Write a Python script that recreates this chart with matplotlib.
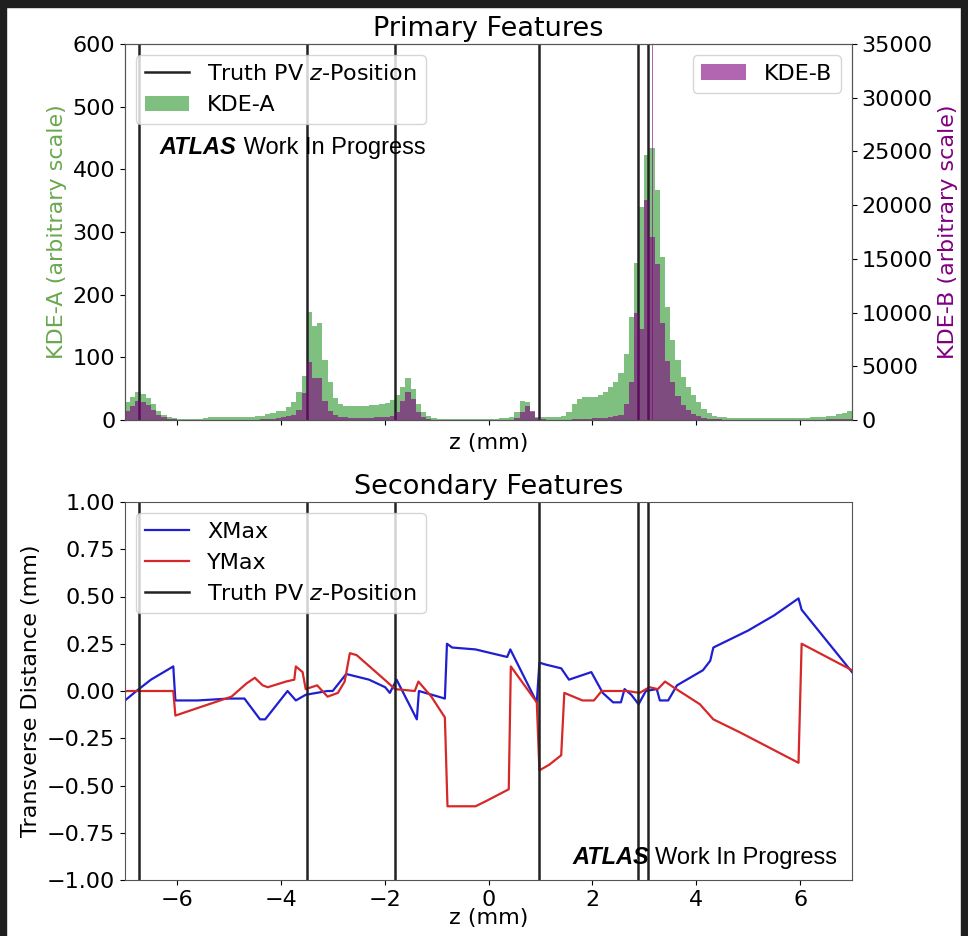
import matplotlib
matplotlib.use("Agg")
import matplotlib.pyplot as plt
from matplotlib.patches import Rectangle
from matplotlib.lines import Line2D
from matplotlib.patches import Patch
import numpy as np

# --- donnees ---
z_min, z_max = -7.0, 7.0

truth_pv_z = [-6.73, -3.49, -1.80, 0.97, 2.88, 3.07]

# KDE-A, bins de 0.1 mm de -7 a 7
kde_a = [
    28, 36, 44, 42, 35, 25, 15, 8, 4, 3,
    2, 2, 2, 2, 2, 3, 4, 4, 4, 4,
    4, 4, 4, 5, 5, 6, 7, 9, 11, 14,
    15, 20, 28, 45, 70, 172, 150, 155, 95, 60,
    35, 25, 22, 22, 22, 23, 23, 24, 24, 25,
    27, 32, 40, 52, 67, 50, 25, 12, 6, 3,
    2, 1, 1, 1, 1, 1, 1, 1, 1, 1,
    1, 2, 3, 3, 4, 12, 30, 28, 12, 5,
    5, 5, 5, 5, 6, 12, 25, 33, 37, 36,
    36, 40, 45, 52, 60, 75, 105, 165, 250, 340,
    423, 434, 367, 260, 180, 128, 95, 69, 52, 40,
    28, 18, 11, 7, 5, 4, 3, 3, 3, 3,
    3, 3, 3, 3, 3, 3, 3, 3, 3, 3,
    3, 3, 4, 4, 5, 6, 7, 9, 11, 14,
]

# KDE-B, memes bins
kde_b = [
    800, 1300, 1750, 1700, 1400, 900, 500, 250, 100, 50,
    20, 10, 10, 10, 10, 10, 10, 10, 10, 10,
    10, 10, 20, 20, 30, 40, 60, 80, 120, 180,
    250, 350, 500, 900, 2500, 5400, 3900, 3900, 1800, 800,
    450, 300, 250, 200, 200, 200, 220, 220, 250, 280,
    320, 400, 700, 1800, 2600, 2000, 700, 250, 100, 40,
    20, 10, 10, 10, 10, 10, 10, 10, 10, 10,
    10, 10, 10, 10, 20, 150, 700, 1300, 800, 200,
    50, 30, 30, 30, 30, 40, 60, 80, 100, 120,
    150, 180, 220, 280, 350, 500, 1500, 3500, 10000, 8500,
    20500, 17000, 14500, 9000, 5500, 3500, 2200, 1400, 900, 600,
    350, 200, 120, 80, 50, 30, 20, 20, 20, 20,
    20, 20, 20, 20, 20, 20, 20, 20, 20, 20,
    20, 20, 30, 30, 40, 50, 60, 80, 100, 120,
]
kde_b_spike_z = [3.16]
kde_b_spike = [40000]

# XMax
xmax_z = [-7.0, -6.78, -6.5, -6.07, -6.03, -5.6, -5.0, -4.7, -4.4, -4.3,
          -3.87, -3.71, -3.52, -3.1, -3.0, -2.74, -2.3, -1.99, -1.9, -1.77,
          -1.38, -1.34, -0.84, -0.80, -0.7, -0.25, 0.36, 0.42, 0.93, 0.98,
          1.1, 1.4, 1.55, 1.98, 2.2, 2.4, 2.55, 2.62, 2.75, 2.89,
          3.03, 3.24, 3.3, 3.46, 3.63, 4.13, 4.27, 4.33, 5.0, 5.5,
          5.97, 6.03, 7.0]
xmax_val = [-0.05, 0.0, 0.06, 0.13, -0.05, -0.05, -0.04, -0.04, -0.15, -0.15,
            0.0, -0.05, -0.02, 0.0, 0.0, 0.09, 0.06, 0.02, -0.01, 0.06,
            -0.15, 0.0, -0.04, 0.25, 0.23, 0.22, 0.18, 0.22, -0.06, 0.15,
            0.14, 0.12, 0.06, 0.10, -0.01, -0.06, -0.06, 0.01, -0.02, -0.07,
            0.0, 0.01, -0.05, -0.05, 0.03, 0.11, 0.16, 0.23, 0.32, 0.40,
            0.49, 0.43, 0.10]

# YMax
ymax_z = [-7.0, -6.07, -6.03, -5.6, -4.95, -4.66, -4.5, -4.35, -4.25, -3.9,
          -3.74, -3.71, -3.58, -3.52, -3.3, -3.1, -2.9, -2.77, -2.67, -2.54,
          -1.96, -1.8, -1.42, -1.35, -1.1, -0.84, -0.79, -0.25, -0.03, 0.39,
          0.43, 0.93, 0.98, 1.17, 1.40, 1.46, 1.81, 2.03, 2.18, 2.67,
          2.91, 3.1, 3.26, 3.4, 3.56, 4.07, 4.33, 4.85, 5.97, 6.03,
          7.0]
ymax_val = [0.0, 0.0, -0.13, -0.09, -0.03, 0.04, 0.07, 0.03, 0.02, 0.05,
            0.06, 0.13, 0.10, 0.01, 0.03, -0.03, -0.01, 0.05, 0.20, 0.19,
            0.05, 0.01, 0.0, 0.05, -0.03, -0.14, -0.61, -0.61, -0.58, -0.52,
            0.13, -0.06, -0.42, -0.39, -0.34, -0.01, -0.05, -0.05, 0.0, 0.0,
            -0.01, 0.02, 0.01, 0.05, 0.02, -0.07, -0.15, -0.22, -0.38, 0.25,
            0.11]

plt.rcParams['font.size'] = 16
plt.rcParams['axes.edgecolor'] = '#555555'

fig = plt.figure(figsize=(9.68, 9.36), dpi=100)

# bord sombre de la capture
for rect in [(0, 1 - 7 / 936, 1, 7 / 936), (0, 0, 6 / 968, 1), (1 - 7 / 968, 0, 7 / 968, 1)]:
    fig.patches.append(Rectangle(rect[:2], rect[2], rect[3], transform=fig.transFigure,
                                 color='#1f1f1f', zorder=-10))

edges = np.linspace(z_min, z_max, len(kde_a) + 1)

# ---------- Primary Features ----------
ax1 = fig.add_axes([125 / 968, 1 - 420 / 936, 727 / 968, 376 / 936])
ax1.stairs(kde_a, edges, fill=True, facecolor='g', alpha=0.5, lw=0)
for z in truth_pv_z:
    ax1.axvline(z, color='#222222', lw=1.8)
ax1.set_xlim(z_min, z_max)
ax1.set_ylim(0, 600)
ax1.set_xticks([-6, -4, -2, 0, 2, 4, 6])
ax1.set_xticklabels([])
ax1.set_xlabel('z (mm)', labelpad=2)
ax1.set_ylabel('KDE-A (arbitrary scale)', color='#6aa84f')
ax1.set_title('Primary Features', fontsize=19.5, pad=6)

handles1 = [Line2D([], [], color='#222222', lw=1.8),
            Patch(facecolor='g', alpha=0.5, lw=0)]
ax1.legend(handles1, ['Truth PV $z$-Position', 'KDE-A'], loc='upper left')

t1 = ax1.text(0.048, 0.726, 'ATLAS', transform=ax1.transAxes, fontsize=17,
              fontweight='bold', fontstyle='italic', family='Liberation Sans', va='center')
ax1.annotate(' Work In Progress', xy=(1, 0), xycoords=t1, fontsize=17,
             family='Liberation Sans', va='bottom')

ax2 = ax1.twinx()
ax2.stairs(kde_b, edges, fill=True, facecolor='purple', alpha=0.6, lw=0)
ax2.bar(kde_b_spike_z, kde_b_spike, width=0.02, color='purple', alpha=0.6, lw=0)
ax2.set_ylim(0, 35000)
ax2.set_ylabel('KDE-B (arbitrary scale)', color='purple')
ax2.legend([Patch(facecolor='purple', alpha=0.6, lw=0)], ['KDE-B'], loc='upper right')

# ---------- Secondary Features ----------
ax3 = fig.add_axes([125 / 968, 1 - 880 / 936, 727 / 968, 378 / 936])
ax3.plot(xmax_z, xmax_val, color='#1f1fd0', lw=1.6, label='XMax')
ax3.plot(ymax_z, ymax_val, color='#d62828', lw=1.6, label='YMax')
for i, z in enumerate(truth_pv_z):
    ax3.axvline(z, color='#222222', lw=1.8, label='Truth PV $z$-Position' if i == 0 else None)
ax3.set_xlim(z_min, z_max)
ax3.set_ylim(-1.0, 1.0)
ax3.set_xticks([-6, -4, -2, 0, 2, 4, 6])
ax3.set_yticks(np.arange(-1.0, 1.01, 0.25))
ax3.yaxis.set_major_formatter(
    matplotlib.ticker.FuncFormatter(lambda v, pos: f'{v:.2f}'.replace('-', '\u2212')))
ax3.set_xlabel('z (mm)', labelpad=-1)
ax3.set_ylabel('Transverse Distance (mm)')
ax3.set_title('Secondary Features', fontsize=19.5, pad=6)
ax3.legend(loc='upper left')

t2 = ax3.text(0.98, 0.058, 'Work In Progress', transform=ax3.transAxes, fontsize=17,
              family='Liberation Sans', ha='right', va='center')
ax3.annotate('ATLAS ', xy=(0, 0), xycoords=t2, fontsize=17, fontweight='bold',
             fontstyle='italic', family='Liberation Sans', ha='right', va='bottom')

fig.savefig('out.png', dpi=100)
